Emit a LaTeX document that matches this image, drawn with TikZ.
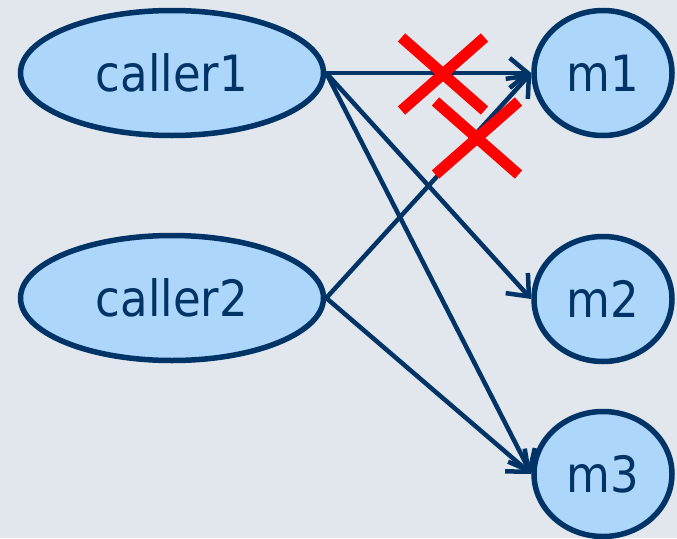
\documentclass[tikz,border=0pt]{standalone}
\usepackage{fontspec}
\setmainfont{DejaVu Sans Condensed}
\usetikzlibrary{shapes.geometric,shapes.misc,arrows.meta}
\definecolor{navy}{RGB}{0,51,102}
\definecolor{bubble}{RGB}{172,214,250}
\definecolor{backdrop}{RGB}{226,231,237}

\begin{document}
\begin{tikzpicture}[x=1pt,y=-1pt,
	caller/.style={ellipse,draw=navy,fill=bubble,line width=5.5pt,minimum width=303pt,minimum height=125pt,inner sep=0pt,text=navy,font=\fontsize{50}{54}\selectfont},
	method/.style={caller,minimum width=138pt,minimum height=125pt},
	call/.style={draw=navy,line width=4.5pt,-{Straight Barb[length=18pt,width=30pt]}},
	nogo/.style={cross out,draw=red,line width=11pt,minimum width=72pt,minimum height=62pt,inner sep=0pt}]
	\fill[backdrop] (0,0) rectangle (677,538);
	\useasboundingbox (0,0) rectangle (677,538);
	\node[caller] (caller1) at (172,73) {caller1};
	\node[caller] (caller2) at (172,298) {caller2};
	\node[method] (m1) at (603,73) {m1};
	\node[method] (m2) at (603,299) {m2};
	\node[method] (m3) at (603,474) {m3};
	\draw[call] (caller1.east) -- (m1.west);
	\draw[call] (caller1.east) -- (m2.west);
	\draw[call] (caller1.east) -- (m3.west);
	\draw[call] (caller2.east) -- (m1.west);
	\draw[call] (caller2.east) -- (m3.west);
	\node[nogo] (x1) at (443,74) {};
	\node[nogo] (x2) at (477,138) {};
\end{tikzpicture}
\end{document}
